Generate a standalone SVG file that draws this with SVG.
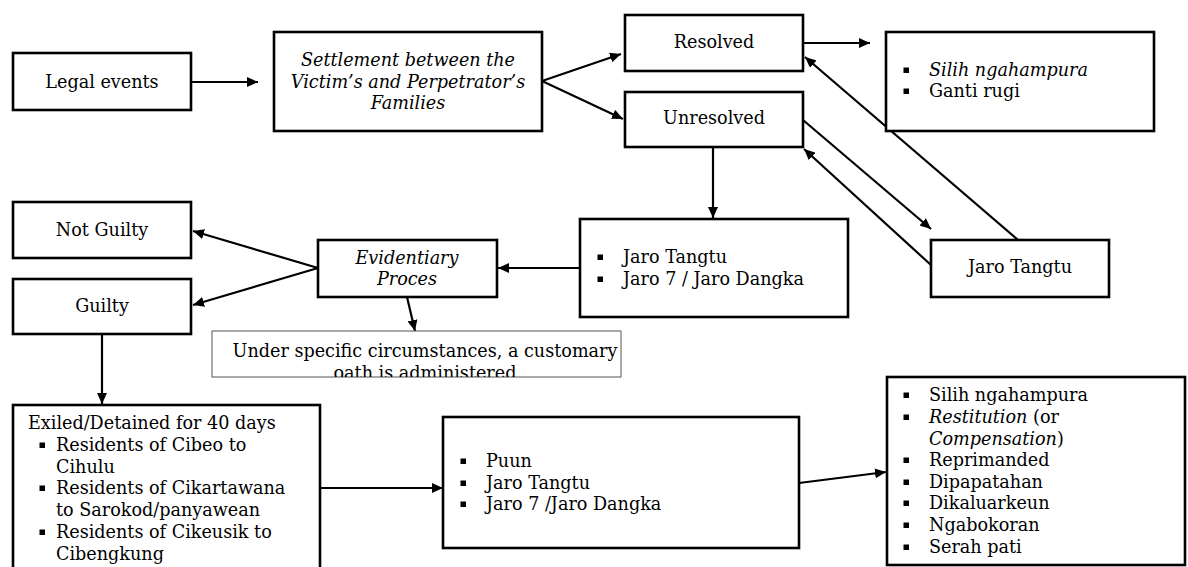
<svg xmlns="http://www.w3.org/2000/svg" width="1188" height="567" viewBox="0 0 1188 567">
<style>
.box{fill:#fff;stroke:#000;stroke-width:2.6}
.thin{fill:#fff;stroke:#555;stroke-width:1}
.t{font-family:"DejaVu Serif","Liberation Serif",serif;font-size:17.6px;fill:#000}
.c{text-anchor:middle}
.i{font-style:italic}
.b{fill:#000}
.ln{stroke:#000;stroke-width:2.2;fill:none;marker-end:url(#ah)}
</style>
<defs>
<marker id="ah" markerUnits="userSpaceOnUse" markerWidth="12" markerHeight="10" refX="11" refY="5" orient="auto">
<path d="M0,0 L11,5 L0,10 z" fill="#000"/>
</marker>
<clipPath id="uc"><rect x="212" y="331" width="409" height="46"/></clipPath>
</defs>
<g id="connectors">
<line class="ln" x1="191" y1="82" x2="258" y2="82"/>
<line class="ln" x1="542" y1="81" x2="621" y2="54"/>
<line class="ln" x1="542" y1="81" x2="623" y2="119"/>
<line class="ln" x1="803" y1="43" x2="870" y2="43"/>
<line class="ln" x1="713" y1="147" x2="713" y2="218"/>
<line class="ln" x1="1018" y1="240" x2="805" y2="57"/>
<line class="ln" x1="803" y1="120" x2="931" y2="229"/>
<line class="ln" x1="931" y1="265" x2="804" y2="149"/>
<line class="ln" x1="580" y1="268" x2="498" y2="268"/>
<line class="ln" x1="318" y1="268" x2="193" y2="231"/>
<line class="ln" x1="318" y1="268" x2="193" y2="305"/>
<line class="ln" x1="407" y1="297" x2="415" y2="331"/>
<line class="ln" x1="102" y1="334" x2="102" y2="404"/>
<line class="ln" x1="320" y1="488" x2="443" y2="488"/>
<line class="ln" x1="799" y1="483" x2="886" y2="472"/>
</g>
<g id="legal">
<rect class="box" x="13" y="53" width="178" height="57"/>
<text class="t c" x="102" y="88">Legal events</text>
</g>
<g id="settlement">
<rect class="box" x="274" y="32" width="268" height="99"/>
<text class="t c i" x="408" y="66">Settlement between the</text>
<text class="t c i" x="408" y="88">Victim’s and Perpetrator’s</text>
<text class="t c i" x="408" y="109">Families</text>
</g>
<g id="resolved">
<rect class="box" x="625" y="15" width="178" height="56"/>
<text class="t c" x="714" y="48">Resolved</text>
</g>
<g id="unresolved">
<rect class="box" x="625" y="92" width="178" height="55"/>
<text class="t c" x="714" y="124">Unresolved</text>
</g>
<g id="resolved-outcome">
<rect class="box" x="886" y="32" width="268" height="99"/>
<rect class="b" x="903.5" y="67.5" width="5.5" height="5.5"/>
<text class="t i" x="929" y="76">Silih ngahampura</text>
<rect class="b" x="903.5" y="88.5" width="5.5" height="5.5"/>
<text class="t" x="929" y="97">Ganti rugi</text>
</g>
<g id="jaro-panel">
<rect class="box" x="580" y="219" width="268" height="98"/>
<rect class="b" x="597.5" y="254.5" width="5.5" height="5.5"/>
<text class="t" x="623" y="263">Jaro Tangtu</text>
<rect class="b" x="597.5" y="276.5" width="5.5" height="5.5"/>
<text class="t" x="623" y="285">Jaro 7 / Jaro Dangka</text>
</g>
<g id="jaro-tangtu">
<rect class="box" x="931" y="240" width="178" height="57"/>
<text class="t c" x="1020" y="273">Jaro Tangtu</text>
</g>
<g id="evidentiary">
<rect class="box" x="318" y="240" width="179" height="57"/>
<text class="t c i" x="407" y="264">Evidentiary</text>
<text class="t c i" x="407" y="285">Proces</text>
</g>
<g id="not-guilty">
<rect class="box" x="13" y="202" width="178" height="56"/>
<text class="t c" x="102" y="236">Not Guilty</text>
</g>
<g id="guilty">
<rect class="box" x="13" y="279" width="178" height="55"/>
<text class="t c" x="102" y="312">Guilty</text>
</g>
<g id="oath">
<rect class="thin" x="212" y="331" width="409" height="46"/>
<g clip-path="url(#uc)">
<text class="t c" x="425" y="357">Under specific circumstances, a customary</text>
<text class="t c" x="425" y="379">oath is administered</text>
</g>
</g>
<g id="exiled">
<rect class="box" x="13" y="405" width="307" height="170"/>
<text class="t" x="28" y="429">Exiled/Detained for 40 days</text>
<rect class="b" x="39.5" y="442.5" width="5.5" height="5.5"/>
<text class="t" x="56" y="451">Residents of Cibeo to</text>
<text class="t" x="56" y="473">Cihulu</text>
<rect class="b" x="39.5" y="485.5" width="5.5" height="5.5"/>
<text class="t" x="56" y="494">Residents of Cikartawana</text>
<text class="t" x="56" y="516">to Sarokod/panyawean</text>
<rect class="b" x="39.5" y="529.5" width="5.5" height="5.5"/>
<text class="t" x="56" y="538">Residents of Cikeusik to</text>
<text class="t" x="56" y="560">Cibengkung</text>
</g>
<g id="puun">
<rect class="box" x="443" y="417" width="356" height="131"/>
<rect class="b" x="460.5" y="458.5" width="5.5" height="5.5"/>
<text class="t" x="486" y="467">Puun</text>
<rect class="b" x="460.5" y="480.5" width="5.5" height="5.5"/>
<text class="t" x="486" y="489">Jaro Tangtu</text>
<rect class="b" x="460.5" y="501.5" width="5.5" height="5.5"/>
<text class="t" x="486" y="510">Jaro 7 /Jaro Dangka</text>
</g>
<g id="sanctions">
<rect class="box" x="887" y="377" width="298" height="188"/>
<rect class="b" x="903.5" y="392.5" width="5.5" height="5.5"/>
<text class="t" x="929" y="401">Silih ngahampura</text>
<rect class="b" x="903.5" y="414.5" width="5.5" height="5.5"/>
<text class="t" x="929" y="423"><tspan class="i">Restitution</tspan> (or</text>
<text class="t" x="929" y="445"><tspan class="i">Compensation</tspan>)</text>
<rect class="b" x="903.5" y="457.5" width="5.5" height="5.5"/>
<text class="t" x="929" y="466">Reprimanded</text>
<rect class="b" x="903.5" y="479.5" width="5.5" height="5.5"/>
<text class="t" x="929" y="488">Dipapatahan</text>
<rect class="b" x="903.5" y="500.5" width="5.5" height="5.5"/>
<text class="t" x="929" y="509">Dikaluarkeun</text>
<rect class="b" x="903.5" y="522.5" width="5.5" height="5.5"/>
<text class="t" x="929" y="531">Ngabokoran</text>
<rect class="b" x="903.5" y="544.5" width="5.5" height="5.5"/>
<text class="t" x="929" y="553">Serah pati</text>
</g>
</svg>
